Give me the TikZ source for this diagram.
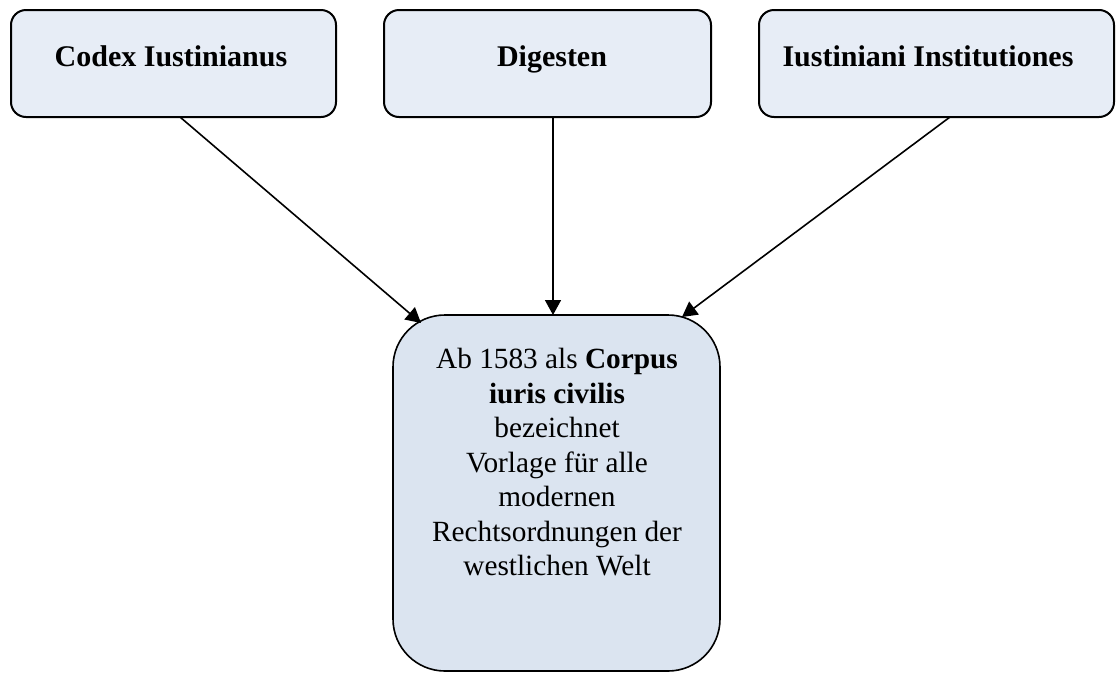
\documentclass[tikz,border=0pt]{standalone}
\usepackage{fontspec}
\setmainfont{Liberation Serif}
\usetikzlibrary{arrows.meta}
\definecolor{topfill}{RGB}{231,237,246}
\definecolor{botfill}{RGB}{219,228,240}
\tikzset{
  topbox/.style={draw=black, line width=2pt, fill=topfill, rounded corners=15pt, minimum height=107pt, inner sep=0pt},
  botbox/.style={draw=black, line width=1.6pt, fill=botfill, rounded corners=52pt, minimum width=327pt, minimum height=356pt, inner sep=0pt},
  titletext/.style={font=\fontsize{30}{35}\selectfont\bfseries, anchor=base, inner sep=0pt},
  bodytext/.style={font=\fontsize{29.3}{34.5}\selectfont, align=center, anchor=north, inner sep=0pt},
  arr/.style={-{Triangle[length=15pt,width=16pt]}, line width=1.6pt}
}
\begin{document}
\begin{tikzpicture}[x=1pt,y=-1pt]
\useasboundingbox (0,0) rectangle (1116,673);
% boxes
\node[topbox, minimum width=325pt] (b1) at (173.5,63.5) {};
\node[topbox, minimum width=327pt] (b2) at (547.5,63.5) {};
\node[topbox, minimum width=355pt] (b3) at (936.5,63.5) {};
\node[botbox] (bot) at (556.5,493) {};
% titles
\node[titletext] (t1) at (171,66) {Codex Iustinianus};
\node[titletext] (t2) at (552,66) {Digesten};
\node[titletext] (t3) at (928,66) {Iustiniani Institutiones};
% body text
\node[bodytext] (body) at (557,348.3) {Ab 1583 als \textbf{Corpus}\\\textbf{iuris civilis}\\bezeichnet\\Vorlage für alle\\modernen\\Rechtsordnungen der\\westlichen Welt};
% connectors
\coordinate (s1) at (180,117);
\coordinate (e1) at (421,323);
\coordinate (s2) at (553,117);
\coordinate (e2) at (553,315);
\coordinate (s3) at (950,117);
\coordinate (e3) at (682,317);
\draw[arr] (s1) -- (e1);
\draw[arr] (s2) -- (e2);
\draw[arr] (s3) -- (e3);
\end{tikzpicture}
\end{document}
